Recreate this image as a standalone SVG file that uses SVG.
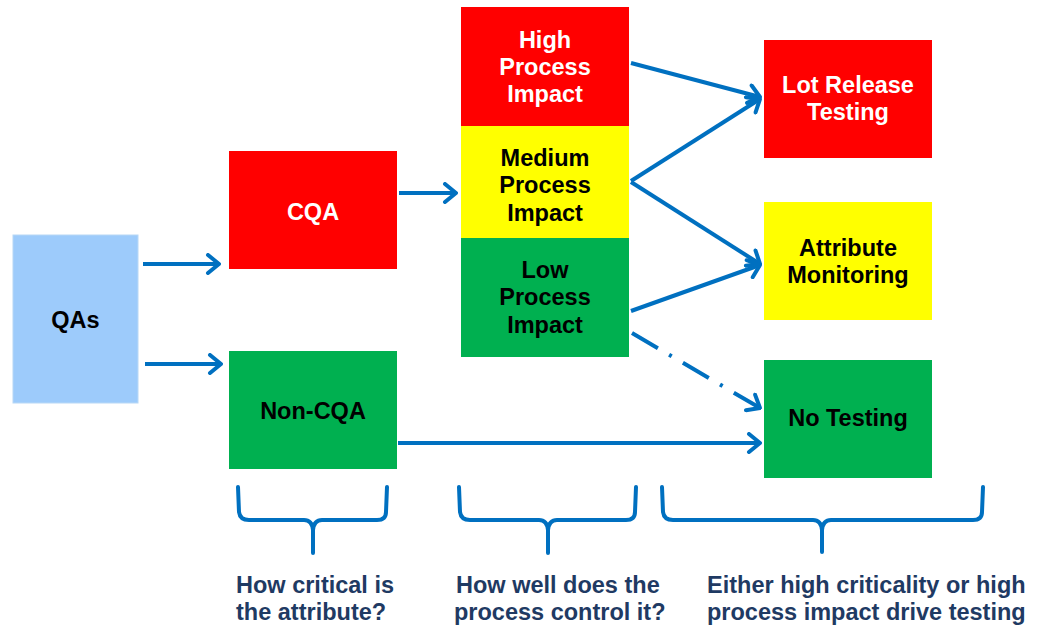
<svg xmlns="http://www.w3.org/2000/svg" width="1041" height="625" viewBox="0 0 1041 625">
  <style>
    .lbl { font-family: "Liberation Sans", Arial, sans-serif; font-weight: bold; font-size: 23.5px; text-anchor: middle; }
    .w { fill: #ffffff; }
    .k { fill: #000000; }
    .note { font-family: "Liberation Sans", Arial, sans-serif; font-weight: bold; font-size: 23.5px; fill: #1f3a63; }
    .red { fill: #ff0000; }
    .yel { fill: #ffff00; }
    .grn { fill: #00b050; }
    .conn { stroke: #0070c0; stroke-width: 4; fill: none; marker-end: url(#chev); }
    .brace { stroke: #0070c0; stroke-width: 4; fill: none; stroke-linecap: round; stroke-linejoin: round; }
  </style>
  <defs>
    <marker id="chev" viewBox="-14 -11 16 22" refX="0" refY="0" markerWidth="16" markerHeight="22" markerUnits="userSpaceOnUse" orient="auto">
      <path d="M -11,-9 L 0,0 L -11,9" fill="none" stroke="#0070c0" stroke-width="4" stroke-linecap="round" stroke-linejoin="round"/>
    </marker>
  </defs>
  <rect width="1041" height="625" fill="#ffffff"/>

  <g id="qas">
    <rect x="13" y="235" width="125" height="168" fill="#9dcbfb" stroke="#b8d8f6" stroke-width="1"/>
    <text class="lbl k" x="75.5" y="328">QAs</text>
  </g>
  <g id="cqa">
    <rect class="red" x="229" y="151" width="168" height="118"/>
    <text class="lbl w" x="313" y="220">CQA</text>
  </g>
  <g id="non-cqa">
    <rect class="grn" x="229" y="351" width="168" height="118"/>
    <text class="lbl k" x="313" y="419">Non-CQA</text>
  </g>
  <g id="high-impact">
    <rect class="red" x="461" y="7" width="168" height="119"/>
    <text class="lbl w" x="545" y="48">High</text>
    <text class="lbl w" x="545" y="75">Process</text>
    <text class="lbl w" x="545" y="102">Impact</text>
  </g>
  <g id="medium-impact">
    <rect class="yel" x="461" y="126" width="168" height="112"/>
    <text class="lbl k" x="545" y="166">Medium</text>
    <text class="lbl k" x="545" y="193">Process</text>
    <text class="lbl k" x="545" y="221">Impact</text>
  </g>
  <g id="low-impact">
    <rect class="grn" x="461" y="238" width="168" height="119"/>
    <text class="lbl k" x="545" y="278">Low</text>
    <text class="lbl k" x="545" y="305">Process</text>
    <text class="lbl k" x="545" y="333">Impact</text>
  </g>
  <g id="lot-release">
    <rect class="red" x="764" y="40" width="168" height="118"/>
    <text class="lbl w" x="848" y="93">Lot Release</text>
    <text class="lbl w" x="848" y="120">Testing</text>
  </g>
  <g id="attribute-monitoring">
    <rect class="yel" x="764" y="202" width="168" height="118"/>
    <text class="lbl k" x="848" y="256">Attribute</text>
    <text class="lbl k" x="848" y="283">Monitoring</text>
  </g>
  <g id="no-testing">
    <rect class="grn" x="764" y="360" width="168" height="118"/>
    <text class="lbl k" x="848" y="426">No Testing</text>
  </g>

  <g id="connectors">
    <line class="conn" x1="143" y1="264" x2="219" y2="264"/>
    <line class="conn" x1="145" y1="364" x2="221" y2="364"/>
    <line class="conn" x1="399" y1="193" x2="456" y2="193"/>
    <line class="conn" x1="631" y1="63" x2="760" y2="97"/>
    <line class="conn" x1="631" y1="181" x2="760" y2="99"/>
    <line class="conn" x1="631" y1="182" x2="760" y2="264"/>
    <line class="conn" x1="631" y1="311" x2="760" y2="265"/>
    <line class="conn" x1="632" y1="333" x2="760" y2="408" stroke-dasharray="30 13 3 13"/>
    <line class="conn" x1="398" y1="443" x2="760" y2="443"/>
  </g>

  <g id="braces">
    <path class="brace" d="M 238,487 L 239,512 Q 240,520 249,520 L 304,520 Q 312,520 313,530 L 313,553 M 313,553 L 313,530 Q 314,520 322,520 L 377,520 Q 386,520 386,512 L 387,487"/>
    <path class="brace" d="M 459,487 L 460,512 Q 461,520 470,520 L 539,520 Q 547,520 548,530 L 548,553 M 548,553 L 548,530 Q 549,520 557,520 L 626,520 Q 635,520 635,512 L 636,487"/>
    <path class="brace" d="M 662,487 L 663,512 Q 664,520 673,520 L 813,520 Q 821,520 822,530 L 822,552 M 822,552 L 822,530 Q 823,520 831,520 L 973,520 Q 982,520 982,512 L 983,487"/>
  </g>

  <g id="notes">
    <text class="note" x="236" y="593">How critical is</text>
    <text class="note" x="236" y="620">the attribute?</text>
    <text class="note" x="456" y="593">How well does the</text>
    <text class="note" x="454" y="620">process control it?</text>
    <text class="note" x="707" y="593">Either high criticality or high</text>
    <text class="note" x="707" y="620">process impact drive testing</text>
  </g>
</svg>
